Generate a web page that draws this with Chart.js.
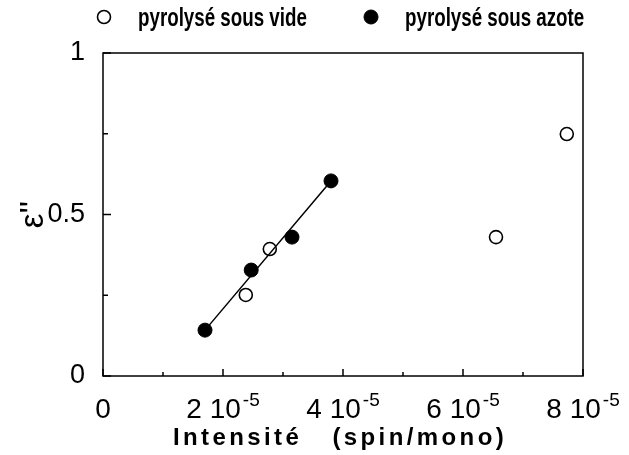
<!DOCTYPE html>
<html>
<head>
<meta charset="utf-8">
<script src="https://cdn.jsdelivr.net/npm/chart.js@4"></script>
<style>
  html, body { margin: 0; padding: 0; background: #fff; }
</style>
</head>
<body>
<canvas id="chart" width="629" height="455"></canvas>
<script>
// ---- data ----
const videX = [2.38e-5, 2.78e-5, 6.55e-5, 7.73e-5];
const videY = [0.251, 0.393, 0.430, 0.749];
const azoteX = [1.70e-5, 2.47e-5, 3.15e-5, 3.80e-5];
const azoteY = [0.142, 0.328, 0.430, 0.604];
// fitted line through the "azote" points (end points)
const fitX = [1.70e-5, 3.80e-5];
const fitY = [0.142, 0.604];

// one entry per tick step (x: 1e-5, y: 0.25); empty = minor tick
const xTickLabels = ["0", "", "2 10^-5", "", "4 10^-5", "", "6 10^-5", "", "8 10^-5"];
const yTickLabels = ["0", "", "0.5", "", "1"];

const toPts = (xs, ys) => xs.map((x, i) => ({ x: x, y: ys[i] }));

const SANS = '"Liberation Sans", Arial, Helvetica, sans-serif';

// frame + inward ticks + x labels with exponent
const framePlugin = {
  id: "frame",
  afterDatasetsDraw(chart) {
    const { ctx, chartArea: a, scales } = chart;
    ctx.save();
    ctx.strokeStyle = "#000";
    ctx.lineWidth = 1.5;
    ctx.strokeRect(a.left, a.top, a.right - a.left, a.bottom - a.top);
    ctx.beginPath();
    scales.x.ticks.forEach((t, i) => {
      const px = scales.x.getPixelForValue(t.value);
      const len = xTickLabels[i] ? 7 : 4;
      ctx.moveTo(px, a.bottom);
      ctx.lineTo(px, a.bottom - len);
    });
    scales.y.ticks.forEach((t, i) => {
      const py = scales.y.getPixelForValue(t.value);
      const len = yTickLabels[i] ? 8 : 5;
      ctx.moveTo(a.left, py);
      ctx.lineTo(a.left + len, py);
    });
    ctx.stroke();

    // x tick labels like "2 10^-5"
    const mainFont = "28px " + SANS, supFont = "19px " + SANS;
    const base = a.bottom + 42;
    ctx.fillStyle = "#000";
    ctx.textBaseline = "alphabetic";
    ctx.textAlign = "left";
    scales.x.ticks.forEach((t, i) => {
      const lab = xTickLabels[i];
      if (!lab) return;
      const [m, e] = lab.split("^");
      ctx.font = mainFont;
      const wm = ctx.measureText(m).width;
      ctx.font = supFont;
      const we = e ? ctx.measureText(e).width + 2 : 0;
      const x0 = scales.x.getPixelForValue(t.value) - (wm + we) / 2;
      ctx.font = mainFont;
      ctx.fillText(m, x0, base);
      if (e) {
        ctx.font = supFont;
        ctx.fillText(e, x0 + wm + 2, base - 12);
      }
    });
    ctx.restore();
  }
};

// legend on top + spaced x title
const textPlugin = {
  id: "texts",
  afterDraw(chart, args, opts) {
    const { ctx } = chart;
    ctx.save();
    opts.legend.forEach((it) => {
      const ds = chart.data.datasets[it.ds];
      ctx.beginPath();
      ctx.arc(it.x, it.y, ds.pointRadius, 0, Math.PI * 2);
      if (ds.backgroundColor !== "rgba(0,0,0,0)") {
        ctx.fillStyle = ds.backgroundColor;
        ctx.fill();
      }
      ctx.lineWidth = ds.borderWidth;
      ctx.strokeStyle = ds.borderColor;
      ctx.stroke();
      // condensed bold look
      ctx.save();
      ctx.translate(it.x + 34, it.y + 9);
      ctx.scale(0.75, 1);
      ctx.fillStyle = "#000";
      ctx.textAlign = "left";
      ctx.textBaseline = "alphabetic";
      ctx.font = "bold 25px " + SANS;
      ctx.fillText(ds.label, 0, 0);
      ctx.restore();
    });

    ctx.fillStyle = "#000";
    ctx.textBaseline = "middle";
    ctx.font = "bold 24px " + SANS;
    ctx.letterSpacing = "3.4px";
    ctx.textAlign = "center";
    ctx.fillText(opts.xTitle, opts.xTitleX, opts.xTitleY);
    ctx.restore();
  }
};

new Chart(document.getElementById("chart"), {
  type: "scatter",
  data: {
    datasets: [
      {
        label: "",
        data: toPts(fitX, fitY),
        showLine: true,
        borderColor: "#000",
        borderWidth: 1.5,
        pointRadius: 0,
        fill: false
      },
      {
        label: "pyrolysé sous vide",
        data: toPts(videX, videY),
        pointRadius: 6.5,
        borderWidth: 1.6,
        borderColor: "#000",
        backgroundColor: "rgba(0,0,0,0)"
      },
      {
        label: "pyrolysé sous azote",
        data: toPts(azoteX, azoteY),
        pointRadius: 7,
        borderWidth: 1,
        borderColor: "#000",
        backgroundColor: "#000"
      }
    ]
  },
  options: {
    responsive: false,
    devicePixelRatio: 1,
    animation: false,
    layout: { padding: { top: 53, right: 46, left: 0, bottom: 0 } },
    plugins: {
      legend: { display: false },
      tooltip: { enabled: false },
      texts: {
        legend: [
          { ds: 1, x: 104, y: 17 },
          { ds: 2, x: 371, y: 17 }
        ],
        xTitle: "Intensité   (spin/mono)",
        xTitleX: 340,
        xTitleY: 438
      }
    },
    scales: {
      x: {
        type: "linear",
        min: 0,
        max: 8e-5,
        grid: { display: false },
        border: { display: false },
        ticks: {
          display: false,
          stepSize: 1e-5,
          autoSkip: false,
          maxRotation: 0
        },
        afterFit: (s) => { s.height = 79; }
      },
      y: {
        min: 0,
        max: 1,
        grid: { display: false },
        border: { display: false },
        title: {
          display: true,
          text: "ε''",
          color: "#000",
          font: { family: SANS, size: 33 },
          padding: { top: 14, bottom: 0 }
        },
        ticks: {
          stepSize: 0.25,
          autoSkip: false,
          padding: 10,
          color: "#000",
          font: { family: SANS, size: 27 },
          callback: (v, i) => yTickLabels[i]
        },
        afterFit: (s) => { s.width = 103; }
      }
    }
  },
  plugins: [framePlugin, textPlugin]
});
</script>
</body>
</html>
